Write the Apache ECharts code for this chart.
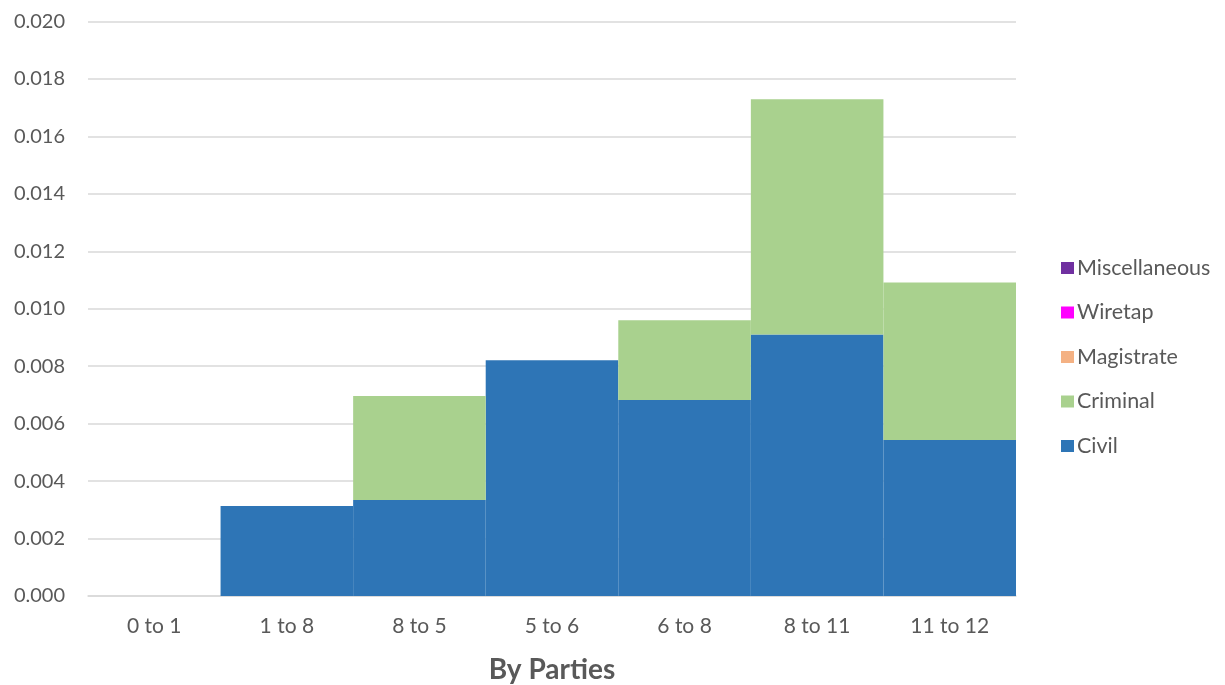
<!DOCTYPE html>
<html>
<head>
<meta charset="utf-8">
<script src="https://cdn.jsdelivr.net/npm/echarts@6/dist/echarts.min.js"></script>
<style>
  html, body { margin: 0; padding: 0; background: #fff; }
  #chart { width: 1225px; height: 685px; }
</style>
</head>
<body>
<div id="chart"></div>
<script>
let myChart = echarts.init(document.getElementById('chart'))

var categories = ['0 to 1', '1 to 8', '8 to 5', '5 to 6', '6 to 8', '8 to 11', '11 to 12'];
var civil = [0, 0.00313, 0.00334, 0.00821, 0.00682, 0.00910, 0.00543];
var criminal = [0, 0, 0.00362, 0, 0.00278, 0.00819, 0.00548];
var magistrate = [0, 0, 0, 0, 0, 0, 0];
var wiretap = [0, 0, 0, 0, 0, 0, 0];
var miscellaneous = [0, 0, 0, 0, 0, 0, 0];

var font = 'Lato, "Open Sans", sans-serif';
var grey = '#595959';

function bar(name, data, color) {
    return {
        name: name,
        type: 'bar',
        stack: 'total',
        barCategoryGap: 0,
        data: data,
        itemStyle: { color: color },
        emphasis: { disabled: true }
    };
}

option = {
    animation: false,
    textStyle: { fontFamily: font },
    grid: {
        left: 88,
        right: 209,
        top: 21.5,
        bottom: 89,
        outerBoundsMode: 'none',
        containLabel: false
    },
    legend: {
        orient: 'vertical',
        left: 1056,
        top: 252,
        itemWidth: 13,
        itemHeight: 12,
        itemGap: 22.5,
        icon: 'rect',
        data: ['Miscellaneous', 'Wiretap', 'Magistrate', 'Criminal', 'Civil'],
        textStyle: { color: grey, fontSize: 21.5, fontFamily: font, lineHeight: 22, padding: [0, 0, 0, -2] }
    },
    xAxis: {
        type: 'category',
        data: categories,
        name: 'By Parties',
        nameLocation: 'middle',
        nameGap: 60,
        nameTextStyle: { color: grey, fontSize: 28, fontWeight: 'bold', fontFamily: font },
        axisTick: { show: false },
        axisLine: { lineStyle: { color: '#d9d9d9', width: 1.5 } },
        axisLabel: { color: grey, fontSize: 21, margin: 20, fontFamily: font }
    },
    yAxis: {
        type: 'value',
        min: 0,
        max: 0.02,
        interval: 0.002,
        axisLine: { show: false },
        axisTick: { show: false },
        splitLine: { lineStyle: { color: '#d9d9d9', width: 1.5 } },
        axisLabel: {
            color: grey,
            fontSize: 20,
            margin: 23,
            fontFamily: font,
            formatter: function (v) { return v.toFixed(3); }
        }
    },
    series: [
        bar('Civil', civil, '#2E75B6'),
        bar('Criminal', criminal, '#A9D18E'),
        bar('Magistrate', magistrate, '#F4B183'),
        bar('Wiretap', wiretap, '#FF00FF'),
        bar('Miscellaneous', miscellaneous, '#7030A0')
    ]
};

myChart.setOption(option)
</script>
</body>
</html>
